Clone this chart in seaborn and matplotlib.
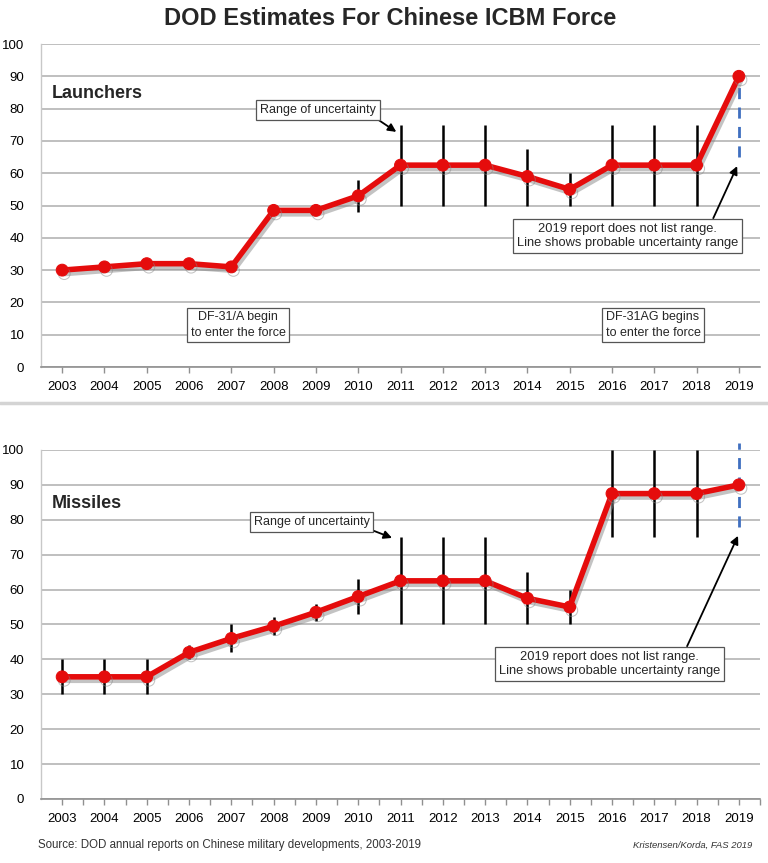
import numpy as np
import pandas as pd
import matplotlib.pyplot as plt
import matplotlib.patheffects as pe
from matplotlib.lines import Line2D
import seaborn as sns

sns.set_theme(style="whitegrid")
plt.rcParams['font.family'] = ['Liberation Sans', 'DejaVu Sans']

years = list(range(2003, 2020))

launchers = [30, 31, 32, 32, 31, 48.5, 48.5, 53, 62.5, 62.5, 62.5, 59, 55, 62.5, 62.5, 62.5, 90]
launchers_low = [30, 30, 31, 31, 30, 47, 47, 48, 50, 50, 50, 50, 50, 50, 50, 50]
launchers_high = [30, 32, 33, 33, 32, 50, 50, 58, 75, 75, 75, 67.5, 60, 75, 75, 75]
launchers_2019_range = [65, 90]

missiles = [35, 35, 35, 42, 46, 49.5, 53.5, 58, 62.5, 62.5, 62.5, 57.5, 55, 87.5, 87.5, 87.5, 90]
missiles_low = [30, 30, 30, 40, 42, 47, 51, 53, 50, 50, 50, 50, 50, 75, 75, 75]
missiles_high = [40, 40, 40, 44, 50, 52, 56, 63, 75, 75, 75, 65, 60, 100, 100, 100]
missiles_2019_range = [78, 102]

RED = "#e50c0c"
BLUE = "#3f6fc0"
GRID = "#b4b4b4"

fig = plt.figure(figsize=(7.68, 8.63), dpi=100)
ax1 = fig.add_axes([0.0534, 0.5747, 0.9362, 0.3743])
ax2 = fig.add_axes([0.0534, 0.0742, 0.9362, 0.4044])


def draw_panel(ax, values, lows, highs, rng, label):
    df = pd.DataFrame({"year": years, "value": values})
    # uncertainty ranges
    ax.vlines(years[:-1], lows, highs, color="black", lw=1.8, zorder=3)
    ax.vlines(years[-1], rng[0], rng[1], color=BLUE, lw=2, linestyles=(0, (4, 3)),
              zorder=3, clip_on=False)
    sns.lineplot(data=df, x="year", y="value", ax=ax, color=RED, lw=4,
                 marker="o", markersize=8.5, markeredgecolor=RED, zorder=4,
                 path_effects=[pe.SimpleLineShadow(offset=(1.5, -2.5), shadow_color="#888888", alpha=0.5),
                               pe.Normal()])
    ax.set_xlim(2002.5, 2019.5)
    ax.set_ylim(0, 100)
    ax.set_yticks(range(0, 101, 10))
    ax.set_xticks(years)
    ax.set_xlabel("")
    ax.set_ylabel("")
    ax.grid(axis="x", visible=False)
    ax.grid(axis="y", color=GRID, lw=1.2)
    for s in ["top", "right"]:
        ax.spines[s].set_visible(False)
    ax.spines["left"].set_color("#c8c8c8")
    ax.spines["left"].set_linewidth(1)
    ax.spines["bottom"].set_color("#909090")
    ax.spines["bottom"].set_linewidth(1.2)
    ax.tick_params(axis="x", bottom=True, length=4, width=1, color="#909090",
                   labelsize=9.5, pad=6, labelcolor="black")
    ax.tick_params(axis="y", left=False, labelsize=9.5, pad=6, labelcolor="black")
    ax.set_facecolor("white")
    ax.text(2002.76, 84.6, label, fontsize=13, fontweight="bold", va="center", ha="left")


draw_panel(ax1, launchers, launchers_low, launchers_high, launchers_2019_range, "Launchers")
draw_panel(ax2, missiles, missiles_low, missiles_high, missiles_2019_range, "Missiles")
ax2.set_xticks([y + 0.5 for y in years], minor=True)
ax2.tick_params(axis="x", which="minor", bottom=True, length=4, width=1, color="#909090")

box = dict(boxstyle="square,pad=0.3", fc="white", ec="#555555", lw=0.9)
arrow = dict(arrowstyle="-|>", color="black", lw=1.3, mutation_scale=12, shrinkA=0, shrinkB=0)

ax1.annotate("Range of uncertainty", xy=(2010.9, 72.8), xytext=(2009.05, 79.6),
             fontsize=9, ha="center", va="center", bbox=box,
             arrowprops=dict(arrow, relpos=(0.97, 0.0)))
ax2.annotate("Range of uncertainty", xy=(2010.8, 74.8), xytext=(2008.9, 79.4),
             fontsize=9, ha="center", va="center", bbox=box,
             arrowprops=dict(arrow, relpos=(0.97, 0.0)))

note = "2019 report does not list range.\nLine shows probable uncertainty range"
ax1.annotate(note, xy=(2018.96, 62.2), xytext=(2016.36, 40.6),
             fontsize=9.3, ha="center", va="center", bbox=box, linespacing=1.3,
             arrowprops=dict(arrow, relpos=(0.88, 1.0)))
ax2.annotate(note, xy=(2018.98, 75.4), xytext=(2015.95, 38.7),
             fontsize=9.3, ha="center", va="center", bbox=box, linespacing=1.3,
             arrowprops=dict(arrow, relpos=(0.84, 1.0)))

ax1.text(2007.16, 13, "DF-31/A begin\nto enter the force", fontsize=9, ha="center",
         va="center", bbox=box, linespacing=1.35)
ax1.text(2016.97, 13, "DF-31AG begins\nto enter the force", fontsize=9, ha="center",
         va="center", bbox=box, linespacing=1.35)

fig.text(0.508, 0.979, "DOD Estimates For Chinese ICBM Force", fontsize=17,
         fontweight="bold", ha="center", va="center")
fig.add_artist(Line2D([0, 1], [1 - 403 / 863, 1 - 403 / 863], color="#d4d4d4", lw=2.5,
                      transform=fig.transFigure))
fig.text(38 / 768, 1 - 845 / 863, "Source: DOD annual reports on Chinese military developments, 2003-2019",
         fontsize=8.3, color="#333333", ha="left", va="center")
fig.text(752 / 768, 1 - 845 / 863, "Kristensen/Korda, FAS 2019", fontsize=6.8,
         style="italic", color="#333333", ha="right", va="center")

fig.savefig("out.png", dpi=100, facecolor="white")
